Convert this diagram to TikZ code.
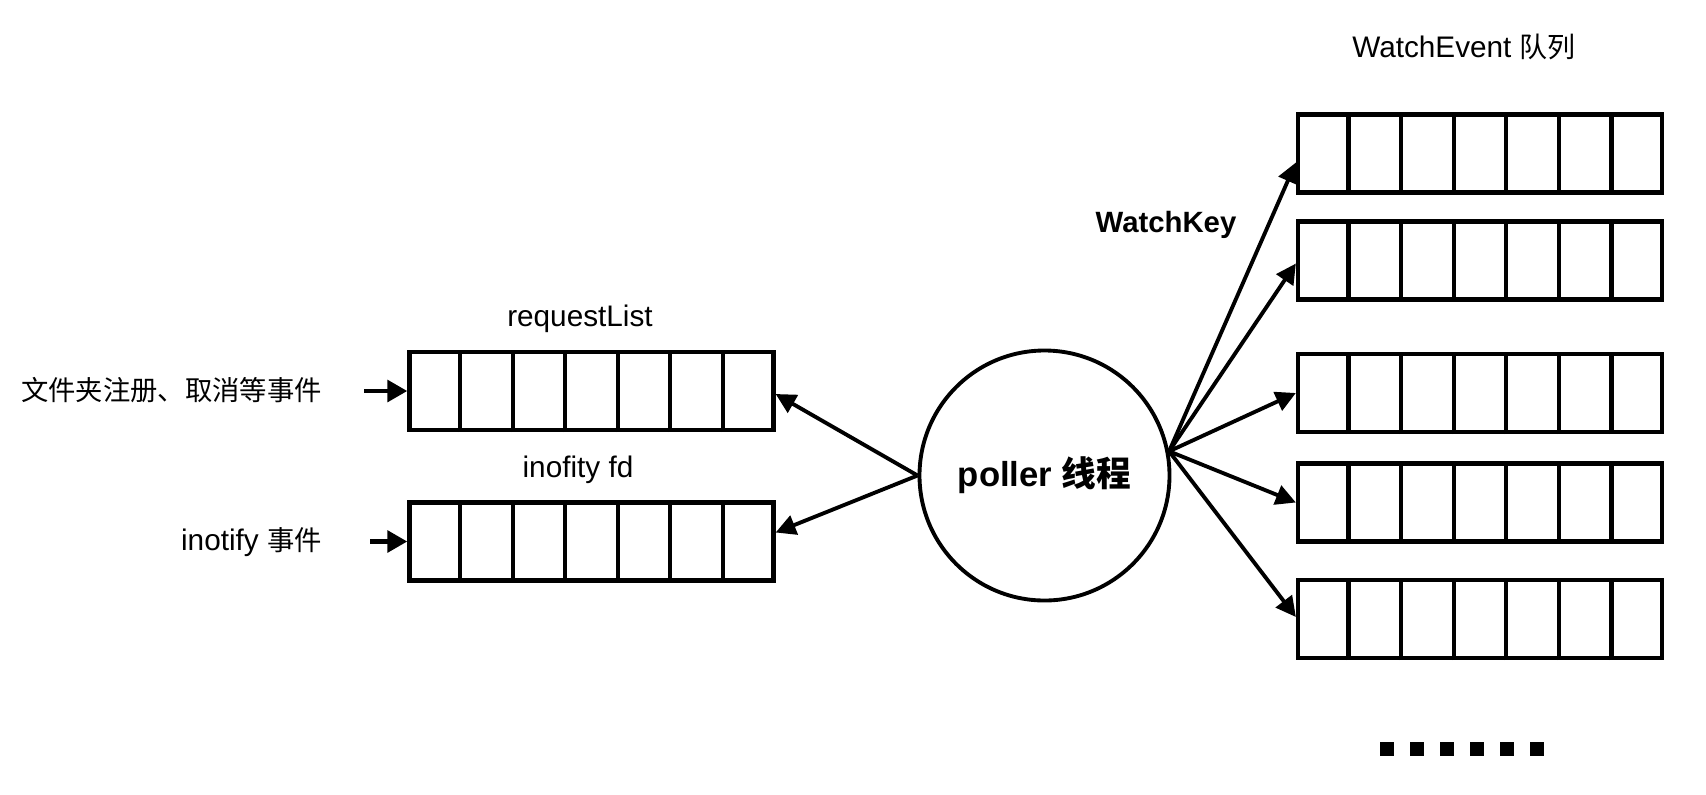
\documentclass[tikz,border=0pt]{standalone}
\usepackage{fontspec}
\setmainfont{Liberation Sans}
\newfontfamily\cjk{Noto Sans CJK SC}
\usetikzlibrary{arrows.meta,calc}
\newcommand\qcells[1]{\foreach \i in {1,...,6}{\draw[line width=3.1pt] ($(#1.south west)!\i/7!(#1.south east)$) -- ($(#1.north west)!\i/7!(#1.north east)$);}}
\begin{document}
\begin{tikzpicture}[x=0.75pt,y=-0.75pt,
  queue/.style={draw,line width=3.2pt,minimum width=273pt,minimum height=58.5pt,inner sep=0pt},
  lbl/.style={font=\fontsize{22.3}{26}\selectfont,inner sep=0pt},
  boldlbl/.style={font=\fontsize{22}{26}\selectfont\bfseries,inner sep=0pt},
  arr/.style={line width=2.9pt,-{Triangle[length=15pt,width=15pt]}},
  inarr/.style={line width=3.6pt,-{Triangle[length=15pt,width=16pt]}}]
\useasboundingbox (0,0) rectangle (1706,794);
% left queues
\node[queue] (rl) at (591.5,391) {};
\qcells{rl}
\node[queue] (ifd) at (591.5,541.5) {};
\qcells{ifd}
% right queues
\node[queue] (w1) at (1480,153.5) {};
\node[queue] (w2) at (1480,260.5) {};
\node[queue] (w3) at (1480,393) {};
\node[queue] (w4) at (1480,502.5) {};
\node[queue] (w5) at (1480,619) {};
\foreach \n in {w1,w2,w3,w4,w5}{\qcells{\n}}
% poller
\node[circle,draw,line width=2.9pt,minimum size=187.5pt,inner sep=0pt,
      font=\fontsize{26}{30}\selectfont\bfseries] (poller) at (1044.5,475.5) {poller {\cjk 线程}};
% labels
\node[lbl] (tRL) at (580,319) {requestList};
\node[lbl] (tIFD) at (578,470) {inofity fd};
\node[lbl] (tWE) at (1464,47) {WatchEvent {\cjk\fontsize{21}{26}\selectfont 队列}};
\node[boldlbl] (tWK) at (1166,225) {WatchKey};
\node[lbl,anchor=east] (tReg) at (322,390) {\cjk\fontsize{20.5}{26}\selectfont 文件夹注册、取消等事件};
\node[lbl,anchor=east] (tIno) at (322,542) {inotify {\cjk\fontsize{20.5}{26}\selectfont 事件}};
% input arrows
\coordinate (in1) at (364,391);
\coordinate (in2) at (370,541.5);
\draw[inarr] (in1) -- (rl.west);
\draw[inarr] (in2) -- (ifd.west);
% poller to left queues
\draw[arr] (poller.west) -- ($(rl.east)+(0,3)$);
\draw[arr] (poller.west) -- ($(ifd.east)+(0,-9)$);
% poller to right queues
\draw[arr] (poller.11) -- ($(w1.west)+(0,9)$);
\draw[arr] (poller.11) -- ($(w2.west)+(0,3)$);
\draw[arr] (poller.11) -- (w3.west);
\draw[arr] (poller.11) -- (w4.west);
\draw[arr] (poller.11) -- ($(w5.west)+(0,-2)$);
% dots
\foreach \k in {0,...,5}{\fill (1380+30*\k,742) rectangle +(14,14);}
\end{tikzpicture}
\end{document}
